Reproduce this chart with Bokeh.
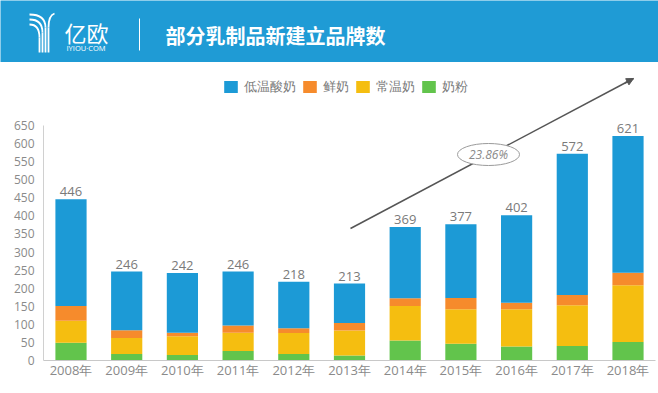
from bokeh.plotting import figure
from bokeh.layouts import column, row
from bokeh.models import (ColumnDataSource, FixedTicker, Legend, LegendItem,
                          Arrow, NormalHead, Range1d)
from bokeh.core.properties import value
from bokeh.embed import file_html
from bokeh.resources import INLINE

# ---------------- data ----------------
years = ["2008年", "2009年", "2010年", "2011年", "2012年", "2013年",
         "2014年", "2015年", "2016年", "2017年", "2018年"]
milk_powder = [49, 18, 15, 26, 18, 14, 55, 46, 39, 40, 51]      # 奶粉
uht_milk = [61, 44, 52, 51, 58, 69, 96, 96, 103, 113, 157]       # 常温奶
fresh_milk = [41, 22, 10, 20, 13, 21, 21, 31, 18, 28, 35]        # 鲜奶
yogurt = [295, 162, 165, 149, 129, 109, 197, 204, 242, 391, 378]  # 低温酸奶
totals = [446, 246, 242, 246, 218, 213, 369, 377, 402, 572, 621]
series_names = ["低温酸奶", "鲜奶", "常温奶", "奶粉"]
cagr_label = "23.86%"
y_ticks = list(range(0, 651, 50))
title_text = "部分乳制品新建立品牌数"

FONT = "Open Sans"
BLUE = "#1C9AD6"
ORANGE = "#F68B2C"
YELLOW = "#F5BE10"
GREEN = "#62C44C"
HEADER = "#1F9BD5"

W = 658
HH = 62
MH = 331

# ---------------- header ----------------
h = figure(width=W, height=HH, x_range=Range1d(0, W), y_range=Range1d(0, HH),
           output_backend="svg", toolbar_location=None, min_border=0,
           x_axis_location=None, y_axis_location=None)
h.grid.visible = False
h.outline_line_color = None
h.background_fill_color = HEADER
h.border_fill_color = HEADER

def hx(x):
    return x

def hy(y):
    return HH - y

# logo strokes (stylised Y)
wc = "white"
for y0, sx in [(14, 45), (19, 42), (24, 39)]:
    h.quadratic(x0=hx(29), y0=hy(y0), x1=hx(sx), y1=hy(y0 + 13),
                cx=hx(sx), cy=hy(y0), line_color=wc, line_width=1.8)
    h.segment(x0=hx(sx), y0=hy(y0 + 13), x1=hx(sx), y1=hy(52),
              line_color=wc, line_width=1.8)
h.quadratic(x0=hx(54), y0=hy(13), x1=hx(48), y1=hy(27),
            cx=hx(48), cy=hy(15), line_color=wc, line_width=1.8)
h.segment(x0=hx(48), y0=hy(27), x1=hx(48), y1=hy(52),
          line_color=wc, line_width=1.8)
h.text(x=[hx(64)], y=[hy(31)], text=["亿欧"], text_color=wc,
       text_font=value("Noto Sans CJK SC"), text_font_size="22px",
       text_font_style="normal", text_baseline="middle", text_align="left")
h.text(x=[hx(66)], y=[hy(47)], text=["IYIOU·COM"], text_color=wc,
       text_font=value(FONT), text_font_size="7.5px",
       text_baseline="middle", text_align="left")
h.segment(x0=hx(139), y0=hy(18), x1=hx(139), y1=hy(50), line_color=wc, line_width=1)
h.text(x=[hx(165)], y=[hy(35)], text=[title_text], text_color=wc,
       text_font=value("Noto Sans CJK SC"), text_font_size="20px",
       text_font_style="bold", text_baseline="middle", text_align="left")

# ---------------- main chart ----------------
px_per_bar = 55.7
x0_ref = 70.5
left_ref = 43
right_ref = 655
scale = 0.3615
top_ref = 66
base_ref = 360
x_start = (left_ref - x0_ref) / px_per_bar
x_end = (right_ref - x0_ref) / px_per_bar
y_end = (base_ref - top_ref) / scale

p = figure(width=W, height=MH, x_range=Range1d(x_start, x_end),
           y_range=Range1d(0, y_end), output_backend="svg",
           toolbar_location=None, min_border_left=left_ref,
           min_border_right=W - right_ref, min_border_top=top_ref - HH,
           min_border_bottom=HH + MH - base_ref)
p.grid.visible = False
p.outline_line_color = None
p.background_fill_color = "white"

idx = list(range(len(years)))
src = ColumnDataSource(dict(x=idx, yogurt=yogurt, fresh=fresh_milk,
                            uht=uht_milk, powder=milk_powder, total=totals,
                            label=[str(t) for t in totals]))
rs = p.vbar_stack(["powder", "uht", "fresh", "yogurt"], x="x", width=0.56,
                  color=[GREEN, YELLOW, ORANGE, BLUE], source=src,
                  line_color=None)

p.text(x="x", y="total", text="label", source=src, text_align="center",
       text_baseline="bottom", y_offset=-3, text_color="#7a7a7a",
       text_font=value(FONT), text_font_size="13px")

# axes
p.yaxis.ticker = FixedTicker(ticks=y_ticks)
p.yaxis.bounds = (0, 650)
p.yaxis.axis_line_color = "#d0d0d0"
p.yaxis.major_tick_line_color = None
p.yaxis.minor_tick_line_color = None
p.yaxis.major_tick_out = 0
p.yaxis.major_tick_in = 0
p.yaxis.minor_tick_out = 0
p.yaxis.major_label_text_color = "#8a8a8a"
p.yaxis.major_label_text_font = FONT
p.yaxis.major_label_text_font_size = "12px"
p.yaxis.major_label_standoff = 9

p.xaxis.ticker = FixedTicker(ticks=idx)
p.xaxis.major_label_overrides = {i: y for i, y in enumerate(years)}
p.xaxis.axis_line_color = "#c8c8c8"
p.xaxis.major_tick_line_color = None
p.xaxis.minor_tick_line_color = None
p.xaxis.major_tick_out = 0
p.xaxis.major_tick_in = 0
p.xaxis.minor_tick_out = 0
p.xaxis.major_label_text_color = "#8a8a8a"
p.xaxis.major_label_text_font = FONT
p.xaxis.major_label_text_font_size = "13px"
p.xaxis.major_label_standoff = 0

# trend arrow
def dx(xr):
    return (xr - x0_ref) / px_per_bar

def dy(yr):
    return (base_ref - yr) / scale

ax0, ay0, ax1, ay1 = dx(350), dy(228), dx(633), dy(78)
p.segment(x0=[ax0], y0=[ay0], x1=[ax1], y1=[ay1], line_color="#555555",
          line_width=1.5)
ex, ey = dx(488), dy(154)
p.ellipse(x=[ex], y=[ey], width=[62], height=[22], width_units="screen",
          height_units="screen", fill_color="white", line_color="#9a9a9a",
          line_width=1)
p.text(x=[ex], y=[ey], text=[cagr_label], text_align="center",
       text_baseline="middle", text_color="#8a8a8a", text_font=value(FONT),
       text_font_size="12px", text_font_style="italic")
t = 0.97
p.add_layout(Arrow(end=NormalHead(size=7, fill_color="#555555",
                                  line_color="#555555"),
                   x_start=ax0 + (ax1 - ax0) * t, y_start=ay0 + (ay1 - ay0) * t,
                   x_end=ax1, y_end=ay1, line_color="#555555", line_width=1.5))

# legend
order = [3, 2, 1, 0]
items = [LegendItem(label=series_names[i], renderers=[rs[j]])
         for i, j in enumerate(order)]
leg = Legend(items=items, orientation="horizontal",
             location=(222 - left_ref, (base_ref - top_ref) - (96 - top_ref)),
             glyph_width=17, glyph_height=15, label_standoff=5, spacing=5,
             padding=0, margin=0, border_line_color=None,
             background_fill_alpha=0, label_text_font=FONT,
             label_text_font_size="13px", label_text_color="#7a7a7a")
p.add_layout(leg, "center")

layout = column(row(h), row(p), spacing=0)
open("out.html", "w").write(file_html(layout, INLINE))
